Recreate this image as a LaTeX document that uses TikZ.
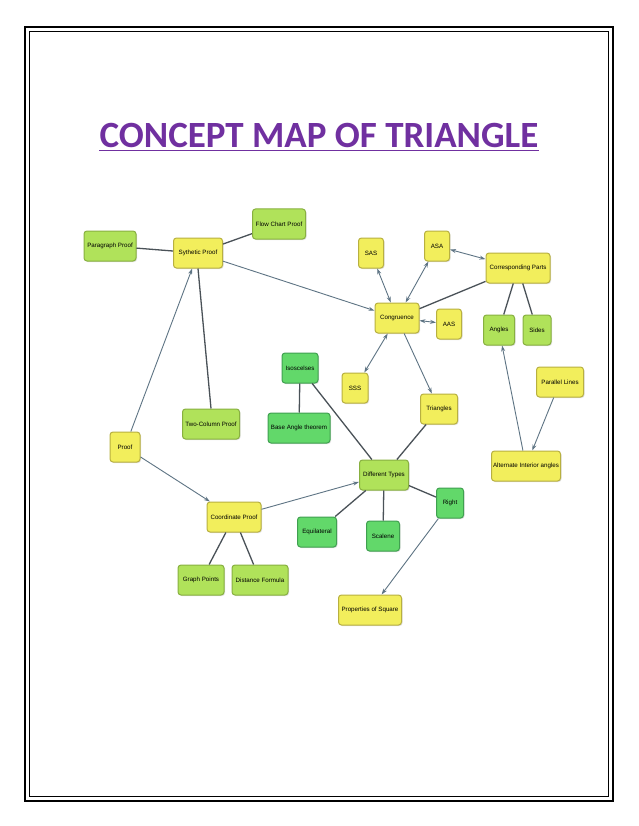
\documentclass[tikz,border=0pt]{standalone}
\usepackage{fontspec}
\setmainfont{Liberation Sans}
\newfontfamily\titlefont{Carlito}
\usetikzlibrary{arrows.meta,shadows}
\definecolor{ylw}{HTML}{F2EE5C}
\definecolor{ylwd}{HTML}{B8B040}
\definecolor{lgr}{HTML}{B0E25A}
\definecolor{lgrd}{HTML}{88B040}
\definecolor{dgr}{HTML}{62D86A}
\definecolor{dgrd}{HTML}{40A050}
\definecolor{ttl}{HTML}{7030A0}
\definecolor{lnc}{HTML}{4A5258}
\definecolor{arc}{HTML}{5E7484}
\tikzset{
  box/.style={rounded corners=3pt,line width=1pt,font=\fontsize{6.2}{7}\selectfont,inner sep=1pt,minimum height=30pt,
    drop shadow={shadow xshift=1pt,shadow yshift=-1pt,opacity=0.25}},
  yb/.style={box,fill=ylw,draw=ylwd},
  lb/.style={box,fill=lgr,draw=lgrd},
  gb/.style={box,fill=dgr,draw=dgrd},
  ln/.style={draw=lnc,line width=1.3pt},
  ar/.style={draw=arc,line width=0.9pt,-{Stealth[length=6pt,width=4pt]}},
  da/.style={draw=arc,line width=0.9pt,{Stealth[length=6pt,width=4pt]}-{Stealth[length=6pt,width=4pt]}},
}
\begin{document}
\begin{tikzpicture}[x=1pt,y=-1pt]
\useasboundingbox (0,0) rectangle (638,826);
\fill[white] (0,0) rectangle (638,826);
\draw[line width=2.5pt] (25,27) rectangle (613,801);
\draw[line width=0.6pt] (29.5,31.5) rectangle (608.5,796.5);
\node[text=ttl,font=\titlefont\bfseries\fontsize{37}{40}\selectfont,inner sep=0pt] (title) at (319,135) {CONCEPT MAP OF TRIANGLE};
\draw[ttl,line width=1.5pt] ([yshift=-3pt]title.south west) -- ([yshift=-3pt]title.south east);

\node[lb,minimum width=52pt] (pp) at (110,246) {Paragraph Proof};
\node[yb,minimum width=49pt] (sp) at (198,253) {Sythetic Proof};
\node[lb,minimum width=53pt] (fc) at (279,224) {Flow Chart Proof};
\node[gb,minimum width=36pt] (is) at (300,368) {Isoscelses};
\node[gb,minimum width=62pt] (ba) at (299,428) {Base Angle theorem};
\node[lb,minimum width=57pt] (tc) at (211,424) {Two-Column Proof};
\node[yb,minimum width=30pt] (pr) at (125,447) {Proof};
\node[yb,minimum width=26pt] (sss) at (355,388) {SSS};
\node[yb,minimum width=25pt] (sas) at (371,253) {SAS};
\node[yb,minimum width=25pt] (asa) at (437,246) {ASA};
\node[yb,minimum width=64pt] (cp) at (518,268) {Corresponding Parts};
\node[yb,minimum width=44pt] (co) at (397,318) {Congruence};
\node[yb,minimum width=25pt] (aas) at (449,324) {AAS};
\node[lb,minimum width=31pt] (an) at (499,330) {Angles};
\node[lb,minimum width=28pt] (si) at (537,330) {Sides};
\node[yb,minimum width=47pt] (pl) at (560,382) {Parallel Lines};
\node[yb,minimum width=37pt] (tr) at (439,409) {Triangles};
\node[yb,minimum width=69pt] (ai) at (526,466) {Alternate Interior angles};
\node[lb,minimum width=49pt] (dt) at (384,475) {Different Types};
\node[gb,minimum width=27pt] (ri) at (450,503) {Right};
\node[yb,minimum width=54pt] (cop) at (234,517) {Coordinate Proof};
\node[gb,minimum width=39pt] (eq) at (317,532) {Equilateral};
\node[gb,minimum width=33pt] (sc) at (383,536) {Scalene};
\node[lb,minimum width=46pt] (gp) at (201,580) {Graph Points};
\node[lb,minimum width=56pt] (df) at (260,580) {Distance Formula};
\node[yb,minimum width=63pt] (ps) at (370,610) {Properties of Square};

\draw[ln] (pp) -- (sp);
\draw[ln] (sp) -- (fc);
\draw[ln] (sp.south) -- (tc.north);
\draw[ar] (sp) -- (co);
\draw[ar] (pr) -- (sp);
\draw[ar] (pr) -- (cop);
\draw[ar] (cop) -- (dt);
\draw[ln] (cop) -- (gp);
\draw[ln] (cop) -- (df);
\draw[da] (sas) -- (co);
\draw[da] (asa) -- (co);
\draw[da] (asa) -- (cp);
\draw[ln] (co) -- (cp);
\draw[da] (co) -- (aas);
\draw[da] (co) -- (sss);
\draw[ar] (co) -- (tr);
\draw[ln] (tr) -- (dt);
\draw[ln] (is) -- (dt);
\draw[ln] (is) -- (ba);
\draw[ln] (cp) -- (an);
\draw[ln] (cp) -- (si);
\draw[ar] (ai) -- (an);
\draw[ar] (pl) -- (ai);
\draw[ln] (dt) -- (eq);
\draw[ln] (dt) -- (sc);
\draw[ln] (dt) -- (ri);
\draw[ar] (ri) -- (ps);
\end{tikzpicture}
\end{document}
